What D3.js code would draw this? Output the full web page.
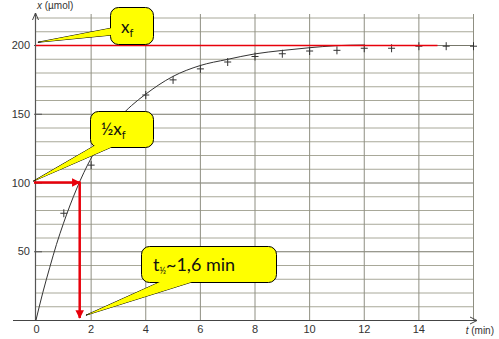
<!DOCTYPE html>
<html>
<head>
<meta charset="utf-8">
<script src="https://cdn.jsdelivr.net/npm/d3@7"></script>
<style>
    body { margin: 0; background: #fff; }
    svg { display: block; }
    .tick text { font-family: "Liberation Sans", Arial, sans-serif; font-size: 11px; fill: #333; }
    .callout text { font-family: Lato, "Open Sans", sans-serif; fill: #111; }
</style>
</head>
<body>
<svg id="chart" width="499" height="339"></svg>
<script>
// measured points (t in min, x in umol)
var pointT = [1, 2, 3, 4, 5, 6, 7, 8, 9, 10, 11, 12, 13, 14, 15, 16];
var pointX = [78, 113, 146, 164, 175, 183, 188, 192, 194, 196, 196.5, 198, 198, 199.5, 199.5, 199.5];

// fitted curve
var curveT = [0, 0.25, 0.5, 0.75, 1, 1.5, 2, 2.5, 3, 3.5, 4, 5, 6, 7, 8, 9, 10, 11, 12];
var curveX = [0, 20, 38, 55, 70, 96, 117, 133, 146, 156, 164, 177, 185, 189.5, 193.5, 196, 198, 199.5, 200];

var xTicks = [0, 2, 4, 6, 8, 10, 12, 14];
var yTicks = [50, 100, 150, 200];
var xFinal = 200, xHalf = 100, tHalf = 1.6, tFinalLineEnd = 14.7;

function setup_chart() {
    var canvas = d3.select("#chart"),
        x = d3.scaleLinear().domain([0, 16]).range([36, 473]),
        y = d3.scaleLinear().domain([0, 220]).range([320, 17.5]);

    var ctx = {"x": x, "y": y};
    draw_grid(canvas, ctx);
    draw_axes(canvas, ctx);
    draw_data(canvas, ctx);
    draw_callouts(canvas, ctx);
}

function draw_grid(canvas, ctx) {
    var g = canvas.append("g").classed("grid", true);

    g.selectAll(".hline").data(d3.range(10, 230, 10))
        .enter().append("line").classed("hline", true)
        .attr("x1", ctx.x(0)).attr("x2", ctx.x(16))
        .attr("y1", d => ctx.y(d) + 0.5).attr("y2", d => ctx.y(d) + 0.5)
        .attr("stroke", d => d % 50 == 0 ? "#77776a" : "#a8a899")
        .attr("stroke-width", 1);

    g.selectAll(".vline").data(d3.range(2, 17, 2))
        .enter().append("line").classed("vline", true)
        .attr("x1", d => ctx.x(d) + 0.5).attr("x2", d => ctx.x(d) + 0.5)
        .attr("y1", 14).attr("y2", ctx.y(0))
        .attr("stroke", "#8f8f82")
        .attr("stroke-width", 1);
}

function draw_axes(canvas, ctx) {
    var x0 = ctx.x(0), y0 = ctx.y(0);

    canvas.append("g").attr("transform", "translate(0," + y0 + ")")
        .call(d3.axisBottom(ctx.x).tickValues(xTicks).tickSize(0).tickPadding(5))
        .call(g => g.select(".domain").remove());

    canvas.append("g").attr("transform", "translate(" + (x0 - 3) + ",0)")
        .call(d3.axisLeft(ctx.y).tickValues(yTicks).tickSize(0).tickPadding(3))
        .call(g => g.select(".domain").remove());

    // small tick dashes on the y axis
    canvas.selectAll(".ydash").data(yTicks).enter().append("line")
        .attr("x1", x0 - 2).attr("x2", x0 + 6)
        .attr("y1", d => ctx.y(d) + 0.5).attr("y2", d => ctx.y(d) + 0.5)
        .attr("stroke", "#555");

    // axis lines with arrows
    canvas.append("line").attr("x1", 13).attr("x2", 477)
        .attr("y1", y0 + 0.5).attr("y2", y0 + 0.5)
        .attr("stroke", "#444").attr("stroke-width", 1.2);
    canvas.append("path").attr("d", "M470," + (y0 - 3) + "L477," + (y0 + 0.5) + "L470," + (y0 + 4))
        .attr("fill", "none").attr("stroke", "#444");

    canvas.append("line").attr("x1", x0 - 0.5).attr("x2", x0 - 0.5)
        .attr("y1", 13).attr("y2", y0)
        .attr("stroke", "#555").attr("stroke-width", 1.2);
    canvas.append("path").attr("d", "M" + (x0 - 3.5) + ",20L" + (x0 - 0.5) + ",13L" + (x0 + 2.5) + ",20")
        .attr("fill", "none").attr("stroke", "#444");

    // axis titles
    var ylab = canvas.append("text").attr("x", 37).attr("y", 9)
        .style("font-family", "Liberation Sans, Arial, sans-serif").style("font-size", "10px").attr("fill", "#333");
    ylab.append("tspan").text("x").style("font-style", "italic");
    ylab.append("tspan").text(" (µmol)");

    var xlab = canvas.append("text").attr("x", 494).attr("y", 334)
        .attr("text-anchor", "end")
        .style("font-family", "Liberation Sans, Arial, sans-serif").style("font-size", "10px").attr("fill", "#333");
    xlab.append("tspan").text("t").style("font-style", "italic");
    xlab.append("tspan").text(" (min)");
}

function draw_data(canvas, ctx) {
    var curve = curveT.map((t, i) => [t, curveX[i]]),
        points = pointT.map((t, i) => [t, pointX[i]]);

    var line = d3.line()
        .x(d => ctx.x(d[0])).y(d => ctx.y(d[1]))
        .curve(d3.curveMonotoneX);

    canvas.append("path").datum(curve)
        .attr("d", line)
        .attr("fill", "none")
        .attr("stroke", "#333")
        .attr("stroke-width", 1);

    canvas.selectAll(".point").data(points)
        .enter().append("path").classed("point", true)
        .attr("d", d => {
            var px = ctx.x(d[0]) + 0.5, py = ctx.y(d[1]) + 0.5;
            return "M" + (px - 3.5) + "," + py + "H" + (px + 3.5) + "M" + px + "," + (py - 4) + "V" + (py + 4);
        })
        .attr("stroke", "#333")
        .attr("stroke-width", 1);

    // x_f line
    canvas.append("line")
        .attr("x1", ctx.x(0)).attr("x2", ctx.x(tFinalLineEnd))
        .attr("y1", ctx.y(xFinal) + 0.5).attr("y2", ctx.y(xFinal) + 0.5)
        .attr("stroke", "#e8000b").attr("stroke-width", 1.6);

    // red arrows for half-life
    var defs = canvas.append("defs");
    defs.append("marker").attr("id", "head")
        .attr("viewBox", "0 0 10 10").attr("refX", 9).attr("refY", 5)
        .attr("markerWidth", 3.6).attr("markerHeight", 3.4)
        .attr("markerUnits", "strokeWidth")
        .attr("orient", "auto")
        .append("path").attr("d", "M0,0L10,5L0,10Z").attr("fill", "#e8000b");

    canvas.append("line")
        .attr("x1", ctx.x(0) - 2).attr("x2", ctx.x(tHalf))
        .attr("y1", ctx.y(xHalf)).attr("y2", ctx.y(xHalf))
        .attr("stroke", "#e8000b").attr("stroke-width", 2.5)
        .attr("marker-end", "url(#head)");
    canvas.append("line")
        .attr("x1", ctx.x(tHalf)).attr("x2", ctx.x(tHalf))
        .attr("y1", ctx.y(xHalf) - 1).attr("y2", ctx.y(0) - 2)
        .attr("stroke", "#e8000b").attr("stroke-width", 2.5)
        .attr("marker-end", "url(#head)");
}

function callout(canvas, box, tip, base) {
    var g = canvas.append("g").classed("callout", true);
    var wedge = "M" + tip + "L" + base[0] + "L" + base[1] + "Z";
    g.append("path").attr("d", wedge)
        .attr("fill", "#ffff00").attr("stroke", "#000").attr("stroke-width", 1);
    g.append("rect")
        .attr("x", box[0] + 0.5).attr("y", box[1] + 0.5)
        .attr("width", box[2]).attr("height", box[3])
        .attr("rx", 8).attr("ry", 8)
        .attr("fill", "#ffff00").attr("stroke", "#000").attr("stroke-width", 1);
    g.append("path").attr("d", wedge).attr("fill", "#ffff00");
    return g;
}

function draw_callouts(canvas, ctx) {
    // x_f
    var c1 = callout(canvas, [110, 7, 43, 37],
        [ctx.x(0.07), ctx.y(202)], [[112, 28], [112, 35]]);
    var t1 = c1.append("text").attr("x", 121).attr("y", 33).style("font-size", "17px");
    t1.append("tspan").text("x");
    t1.append("tspan").text("f").attr("dy", 4).style("font-size", "11px");

    // 1/2 x_f
    var c2 = callout(canvas, [90, 111, 63, 36],
        [ctx.x(-0.1), ctx.y(xHalf + 1)], [[94, 146], [114, 146]]);
    var t2 = c2.append("text").attr("x", 101).attr("y", 135).style("font-size", "17px");
    t2.append("tspan").text("½x");
    t2.append("tspan").text("f").attr("dy", 4).style("font-size", "11px");

    // t 1/2
    var c3 = callout(canvas, [141, 246, 135, 36],
        [ctx.x(1.83), ctx.y(3.5)], [[162, 281], [195, 281]]);
    var t3 = c3.append("text").attr("x", 153).attr("y", 271).style("font-size", "18px");
    t3.append("tspan").text("t");
    t3.append("tspan").text("½").attr("dy", 3).style("font-size", "9px");
    t3.append("tspan").text("~1,6 min").attr("dy", -3);
}

setup_chart();
</script>
</body>
</html>
